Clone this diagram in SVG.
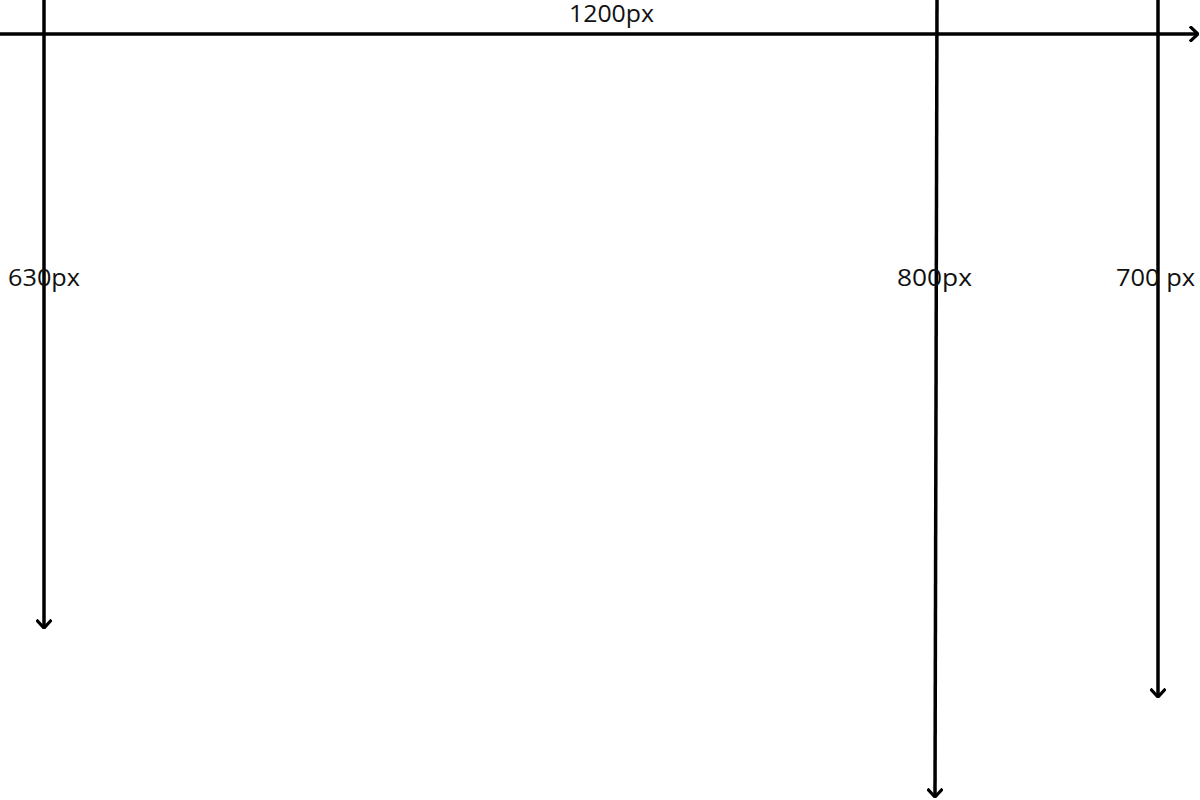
<svg xmlns="http://www.w3.org/2000/svg" width="1200" height="800" viewBox="0 0 1200 800">
<style>
.ln{stroke:#000;stroke-width:3.5;fill:none;}
.lbl{font-family:"Open Sans","Liberation Sans",sans-serif;font-size:23px;fill:#111;}
</style>
<defs>
<marker id="ah" viewBox="0 0 10 16" refX="9" refY="8" markerWidth="10" markerHeight="16" markerUnits="userSpaceOnUse" orient="auto">
<polyline points="2,1.5 9,8 2,14.5" fill="none" stroke="#000" stroke-width="3.2" stroke-linecap="square"/>
</marker>
</defs>
<rect width="1200" height="800" fill="#fff"/>
<g id="connectors">
<line class="ln" x1="0" y1="34" x2="1198" y2="34" marker-end="url(#ah)"/>
<line class="ln" x1="44" y1="0" x2="44" y2="628" marker-end="url(#ah)"/>
<line class="ln" x1="937" y1="0" x2="935" y2="797" marker-end="url(#ah)"/>
<line class="ln" x1="1158" y1="0" x2="1158" y2="697" marker-end="url(#ah)"/>
</g>
<g id="label-1200"><text class="lbl" x="569" y="22" textLength="85" lengthAdjust="spacingAndGlyphs">1200px</text></g>
<g id="label-630"><text class="lbl" x="8" y="286" textLength="72" lengthAdjust="spacingAndGlyphs">630px</text></g>
<g id="label-800"><text class="lbl" x="897" y="286" textLength="75" lengthAdjust="spacingAndGlyphs">800px</text></g>
<g id="label-700"><text class="lbl" x="1116" y="286" textLength="79" lengthAdjust="spacingAndGlyphs">700 px</text></g>
</svg>
